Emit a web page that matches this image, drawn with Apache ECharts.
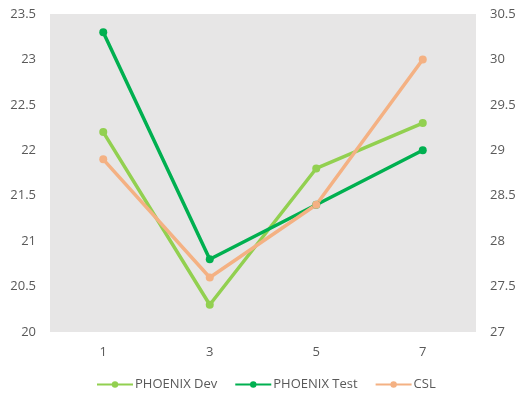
<!DOCTYPE html>
<html>
<head>
<meta charset="utf-8">
<style>
  html, body { margin: 0; padding: 0; background: #ffffff; }
  #chart { width: 520px; height: 393px; }
</style>
<script src="https://cdn.jsdelivr.net/npm/echarts@6/dist/echarts.min.js"></script>
</head>
<body>
<div id="chart"></div>
<script>
// Categories along the x axis
const categories = ['1', '3', '5', '7'];
// Series on the left axis
const phoenixDev = [22.2, 20.3, 21.8, 22.3];
const phoenixTest = [23.3, 20.8, 21.4, 22.0];
// Series on the right axis
const csl = [28.9, 27.6, 28.4, 30.0];

const textColor = '#595959';
const fontFamily = '"Open Sans", "Noto Sans", sans-serif';

const chart = echarts.init(document.getElementById('chart'), null, { renderer: 'canvas' });

function lineSeries(name, data, color, axisIndex) {
  return {
    name: name,
    type: 'line',
    yAxisIndex: axisIndex,
    data: data,
    symbol: 'circle',
    symbolSize: 8,
    lineStyle: { width: 3.5, color: color },
    itemStyle: { color: color },
    emphasis: { disabled: true }
  };
}

chart.setOption({
  animation: false,
  backgroundColor: '#ffffff',
  grid: {
    left: 50, right: 44, top: 14, bottom: 61,
    show: true, backgroundColor: '#e7e6e6', borderWidth: 0
  },
  legend: {
    left: 96,
    bottom: 2,
    padding: 0,
    itemWidth: 36,
    itemHeight: 8,
    itemGap: 17,
    textStyle: { color: textColor, fontSize: 13, fontFamily: fontFamily, padding: [0, 0, 0, -3] },
    data: ['PHOENIX Dev', 'PHOENIX Test', 'CSL']
  },
  xAxis: {
    type: 'category',
    data: categories,
    boundaryGap: true,
    axisLine: { show: false },
    axisTick: { show: false },
    axisLabel: { color: textColor, fontSize: 13, fontFamily: fontFamily, margin: 14 }
  },
  yAxis: [
    {
      type: 'value', min: 20, max: 23.5, interval: 0.5,
      splitLine: { show: false },
      axisLine: { show: false }, axisTick: { show: false },
      axisLabel: { color: textColor, fontSize: 13, fontFamily: fontFamily, margin: 14 }
    },
    {
      type: 'value', min: 27, max: 30.5, interval: 0.5,
      position: 'right',
      splitLine: { show: false },
      axisLine: { show: false }, axisTick: { show: false },
      axisLabel: { color: textColor, fontSize: 13, fontFamily: fontFamily, margin: 14 }
    }
  ],
  series: [
    lineSeries('PHOENIX Dev', phoenixDev, '#92d050', 0),
    lineSeries('PHOENIX Test', phoenixTest, '#00b050', 0),
    lineSeries('CSL', csl, '#f4b183', 1)
  ]
});
</script>
</body>
</html>
